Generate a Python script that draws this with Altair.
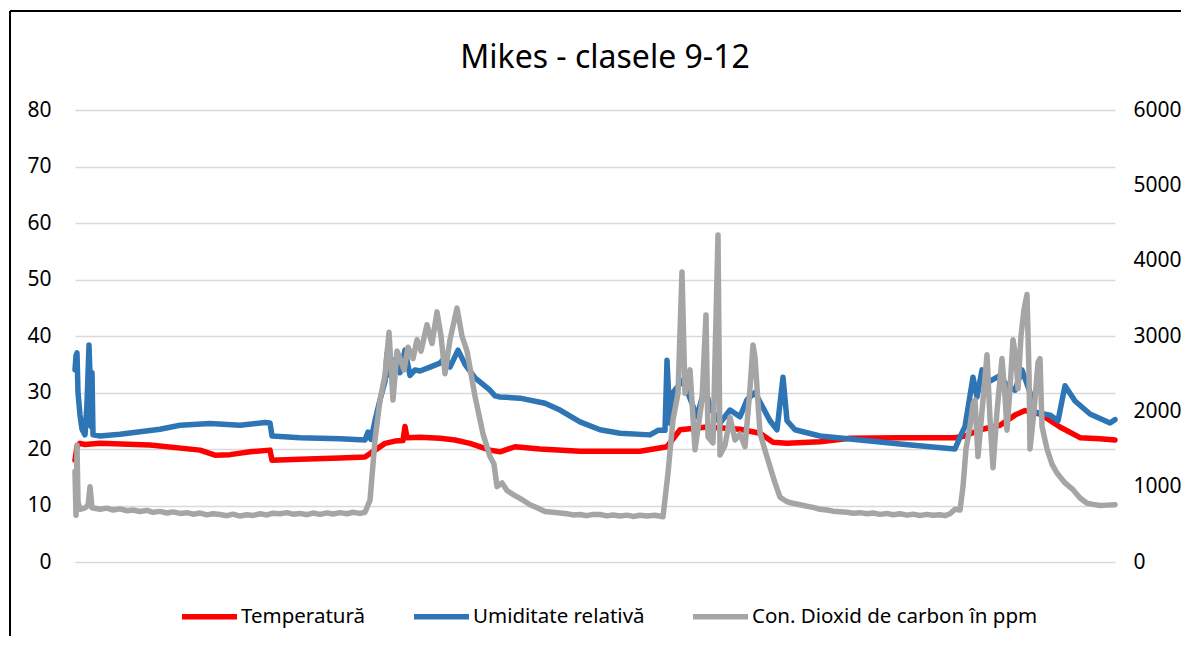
import altair as alt
import pandas as pd

# sample index (time steps) and readings
t_temp = [0, 2, 5, 10, 25, 75, 125, 140, 155, 175, 195, 197, 225, 265, 290, 300, 310, 320, 328, 330, 332,
          345, 365, 380, 395, 415, 425, 440, 465, 505, 565, 592, 605, 632, 665, 685, 698, 712, 745, 775,
          825, 880, 890, 905, 925, 940, 950, 965, 985, 1005, 1025, 1040]
temp = [18.0, 20.5, 21.0, 20.8, 21.0, 20.7, 19.8, 18.9, 19.0, 19.5, 19.8, 18.0, 18.2, 18.4, 18.6, 19.8, 21.0,
        21.4, 21.5, 24.0, 22.0, 22.1, 21.9, 21.6, 21.0, 19.8, 19.5, 20.4, 20.0, 19.6, 19.6, 20.4, 23.4, 23.9,
        23.5, 22.8, 21.2, 21.0, 21.3, 21.9, 22.0, 22.0, 22.3, 23.4, 24.2, 26.0, 26.8, 26.2, 23.9, 22.0, 21.8, 21.6]

t_hum = [0, 1, 2, 3, 5, 7, 10, 12, 14, 15, 16, 17, 18, 25, 45, 85, 105, 135, 165, 190, 195, 197, 225, 265,
         290, 293, 296, 300, 305, 310, 312, 315, 320, 325, 330, 335, 340, 345, 355, 365, 370, 375, 383, 390,
         400, 415, 420, 425, 445, 470, 485, 505, 525, 545, 575, 583, 590, 592, 595, 598, 608, 622, 630, 635,
         645, 655, 665, 672, 680, 685, 695, 702, 708, 712, 720, 745, 785, 825, 855, 880, 885, 890, 898, 902,
         907, 915, 925, 933, 940, 947, 955, 960, 975, 983, 990, 1000, 1015, 1030, 1035, 1040]
hum = [34, 36.5, 37, 30, 26, 23.5, 22.5, 28, 38.4, 33, 24, 33.5, 22.5, 22.3, 22.6, 23.5, 24.2, 24.5, 24.2,
       24.7, 24.6, 22.3, 22.0, 21.8, 21.6, 23, 21.7, 25, 28.7, 32, 37, 33, 35.8, 33.5, 37.5, 33, 34, 33.8,
       34.5, 35.2, 36.2, 34.5, 37.5, 35, 32.6, 30.4, 29.4, 29.2, 29.0, 28.1, 26.9, 24.8, 23.4, 22.8, 22.5,
       23.3, 23.3, 35.7, 24.6, 30, 32.2, 25.7, 31, 27.4, 24.6, 26.9, 25.7, 28.7, 30, 28.3, 25, 23.4, 32.7,
       25, 23.4, 22.3, 21.6, 20.9, 20.4, 20.0, 22.1, 24, 32.7, 29.2, 34, 32, 33, 31, 30.4, 34, 30, 26.5,
       26, 25, 31.2, 28.5, 26.2, 25, 24.6, 25.2]

# CO2 readings as (sample index, ppm)
co2_readings = [
    (0, 1200), (1, 620), (2, 1550), (3, 800), (5, 700), (10, 720), (13, 750), (15, 1000), (17, 720), (25, 700),
    (32, 715), (38, 690), (45, 705), (52, 680), (58, 690), (65, 670), (72, 685), (78, 660), (85, 672), (92, 650),
    (98, 665), (105, 645), (112, 655), (118, 635), (125, 650), (132, 625), (138, 640), (145, 630), (152, 615),
    (158, 635), (165, 610), (172, 628), (178, 618), (185, 640), (192, 625), (198, 648), (205, 640), (212, 655),
    (218, 635), (225, 645), (232, 628), (238, 650), (245, 632), (252, 652), (258, 638), (265, 655), (272, 640),
    (278, 660), (285, 645), (290, 660), (295, 820), (300, 1620), (305, 2150), (310, 2480), (314, 3050),
    (318, 2150), (322, 2800), (325, 2700), (329, 2550), (333, 2850), (338, 2700), (342, 2950), (346, 2800),
    (352, 3150), (357, 2900), (362, 3320), (366, 3000), (370, 2500), (375, 2950), (382, 3370), (387, 3000),
    (392, 2800), (400, 2200), (408, 1700), (415, 1400), (419, 1300), (422, 1000), (427, 1050), (432, 950),
    (440, 880), (448, 820), (455, 760), (462, 720), (470, 670), (478, 660), (485, 650), (492, 640), (498, 625),
    (505, 630), (512, 615), (518, 632), (525, 630), (532, 612), (538, 625), (545, 610), (552, 622), (558, 605),
    (565, 620), (572, 612), (580, 620), (588, 600), (593, 1180), (598, 1890), (603, 2240), (607, 3850),
    (610, 2240), (615, 2550), (620, 1490), (627, 2150), (631, 3280), (633, 1660), (638, 1580), (643, 4340),
    (645, 1420), (650, 1550), (655, 1920), (660, 1620), (665, 1700), (670, 1530), (675, 2300), (678, 2880),
    (680, 2720), (685, 1710), (693, 1350), (700, 1050), (705, 860), (712, 800), (718, 780), (725, 760),
    (732, 740), (738, 725), (745, 700), (752, 690), (758, 675), (765, 668), (772, 660), (778, 648), (785, 655),
    (792, 640), (798, 650), (805, 632), (812, 645), (818, 628), (825, 640), (832, 622), (838, 635), (845, 618),
    (852, 632), (858, 620), (865, 628), (870, 615), (875, 640), (880, 700), (885, 690), (888, 1000),
    (891, 1500), (895, 1800), (898, 2100), (900, 2150), (903, 1400), (907, 2000), (912, 2750), (915, 1900),
    (918, 1250), (922, 2000), (927, 2700), (930, 2200), (932, 1750), (935, 2300), (938, 2950), (941, 2700),
    (943, 2300), (946, 3000), (949, 3350), (952, 3550), (954, 2500), (955, 1500), (959, 2000), (963, 2650),
    (965, 2700), (967, 1800), (972, 1500), (977, 1300), (982, 1180), (990, 1050), (998, 960), (1005, 850),
    (1012, 780), (1018, 765), (1025, 750), (1032, 755), (1040, 760),
]
t_co2 = [p[0] for p in co2_readings]
co2 = [p[1] for p in co2_readings]

series = ["Temperatură", "Umiditate relativă", "Con. Dioxid de carbon în ppm"]
colors = ["#FF0000", "#2E75B6", "#A5A5A5"]
left_ticks = [0, 10, 20, 30, 40, 50, 60, 70, 80]
right_ticks = [0, 1000, 2000, 3000, 4000, 5000, 6000]

FONT = "Noto Sans"

df_left = pd.concat([
    pd.DataFrame({"t": t_temp, "v": temp, "s": series[0], "o": 0}),
    pd.DataFrame({"t": t_hum, "v": hum, "s": series[1], "o": 1}),
])
df_right = pd.DataFrame({"t": t_co2, "v": co2, "s": series[2], "o": 2})

xscale = alt.Scale(domain=[0, 1040], nice=False, zero=False)
color = alt.Color("s:N", scale=alt.Scale(domain=series, range=colors),
                  legend=alt.Legend(title=None, orient="none", legendX=104, legendY=476,
                                    direction="horizontal", symbolType="stroke",
                                    symbolStrokeWidth=5.5, symbolSize=3025,
                                    labelFont=FONT, labelFontSize=20.5, labelColor="black",
                                    labelLimit=500, labelOffset=1, columnPadding=37))

line_kw = dict(strokeWidth=5.5, strokeJoin="round", strokeCap="round")

left = alt.Chart(df_left).mark_line(**line_kw).encode(
    x=alt.X("t:Q", scale=xscale, axis=None),
    y=alt.Y("v:Q", scale=alt.Scale(domain=[0, 80], nice=False),
            axis=alt.Axis(title=None, values=left_ticks, domain=False, ticks=False,
                          labelPadding=24, labelFont=FONT, labelFontSize=21, labelColor="black",
                          grid=True, gridColor="#D9D9D9", gridWidth=1.5)),
    color=color,
    order="o:Q",
    detail="s:N",
)

right = alt.Chart(df_right).mark_line(**line_kw).encode(
    x=alt.X("t:Q", scale=xscale, axis=None),
    y=alt.Y("v:Q", scale=alt.Scale(domain=[0, 6000], nice=False),
            axis=alt.Axis(title=None, orient="right", values=right_ticks, format="d",
                          domain=False, ticks=False,
                          labelPadding=18, labelFont=FONT, labelFontSize=21, labelColor="black",
                          grid=False)),
    color=color,
)

frame_df = pd.DataFrame({"k": [0]})
frame_v = alt.Chart(frame_df).mark_rule(color="black", strokeWidth=2, clip=False).encode(
    x=alt.value(-65), y=alt.value(-99), y2=alt.value(540))
frame_h = alt.Chart(frame_df).mark_rule(color="black", strokeWidth=2, clip=False).encode(
    x=alt.value(-65), x2=alt.value(1120), y=alt.value(-99))

chart = alt.layer(left, right, frame_v, frame_h).resolve_scale(
    y="independent", color="shared"
).properties(
    width=1040, height=452,
    title=alt.TitleParams("Mikes - clasele 9-12", font=FONT, fontSize=32, fontWeight="normal",
                          color="black", anchor="middle", frame="group", offset=-90,
                          baseline="alphabetic", dx=10),
    padding={"left": 67, "top": 102, "right": 66, "bottom": 74},
    autosize=alt.AutoSizeParams(type="none"),
).configure_view(stroke=None)

chart.save("out.html", embed_options={"renderer": "svg", "actions": False})
